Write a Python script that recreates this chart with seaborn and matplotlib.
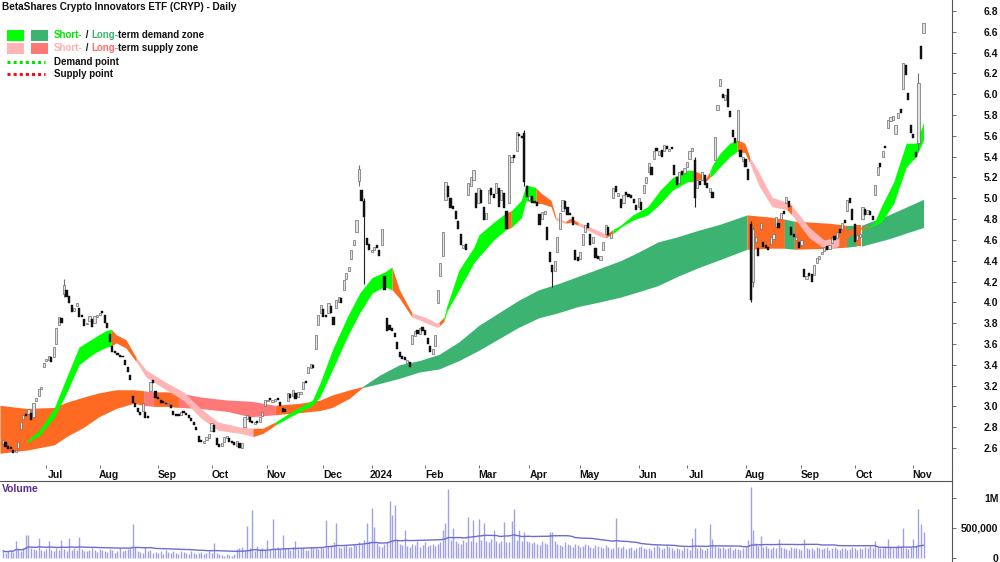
import numpy as np
import pandas as pd
import matplotlib
matplotlib.use("Agg")
import matplotlib.pyplot as plt
import seaborn as sns
from matplotlib.patches import Rectangle
from matplotlib.lines import Line2D
from matplotlib.transforms import ScaledTranslation

# ---------------- data (ASX trading days from 2023-06-07) ----------------
start_date = "2023-06-07"
asx_holidays = ["2023-06-12", "2023-12-25", "2023-12-26", "2024-01-01", "2024-01-26",
                "2024-03-29", "2024-04-01", "2024-04-25", "2024-06-10"]

closes = [
    2.68, 2.61, 2.59, 2.59, 2.55, 2.58, 2.66, 2.85, 2.92,
    2.91, 2.97, 2.87, 3.03, 3.08, 3.17, 3.19, 3.42, 3.46, 3.48,
    3.43, 3.57, 3.75, 3.86, 3.80, 4.17, 4.05, 3.99, 3.91, 3.95, 3.99,
    3.86, 3.86, 3.77, 3.80, 3.87, 3.76, 3.87, 3.88, 3.90, 3.90, 3.80,
    3.75, 3.62, 3.52, 3.51, 3.49, 3.47, 3.47, 3.40, 3.33, 3.25,
    3.03, 2.99, 2.95, 2.92, 3.03, 2.89, 2.89, 3.23, 3.22, 3.08,
    3.07, 3.03, 3.03, 3.02, 3.03, 2.98, 2.92, 2.91, 2.91, 2.95,
    2.94, 2.92, 2.89, 2.86, 2.82, 2.77, 2.66, 2.66, 2.67, 2.71, 2.73,
    2.84, 2.75, 2.63, 2.61, 2.65, 2.71, 2.72, 2.66, 2.65, 2.63, 2.67,
    2.60, 2.65, 2.90, 2.92, 2.85, 2.84, 2.85, 2.84, 2.90, 2.95,
    3.06, 3.06, 3.06, 3.06, 3.07, 3.06, 3.00, 2.95, 2.95, 3.13,
    3.08, 3.16, 3.07, 3.14, 3.14, 3.23, 3.22, 3.38, 3.41, 3.37,
    3.69, 3.88, 3.97, 3.86, 3.86, 3.99, 3.90, 3.78, 4.02,
    4.05, 3.99, 4.21, 4.28, 4.34, 4.50, 4.60, 4.79, 5.28, 4.97,
    4.82, 4.55, 4.50, 4.50, 4.53, 4.52, 4.45, 4.70, 4.12, 3.72,
    3.73, 3.72, 3.67, 3.55, 3.47, 3.46, 3.45, 3.45, 3.38, 3.69,
    3.72, 3.70, 3.75, 3.72, 3.69, 3.60, 3.52, 3.55, 3.69, 4.12,
    4.38, 4.68, 5.16, 5.01, 4.91, 4.90, 4.80, 4.70, 4.55,
    4.55, 4.50, 5.15, 5.20, 5.27, 4.91,
    5.10, 4.95, 4.79, 4.86, 5.08, 5.03, 5.00, 5.15, 4.92, 5.08,
    4.91, 4.70, 5.42, 5.40, 5.39, 5.64, 5.60, 5.58, 5.16, 5.01,
    5.02, 4.95, 4.95, 4.93, 4.74, 4.87, 4.88, 4.60, 4.39,
    4.29, 4.40, 4.63, 4.86, 4.98, 4.90, 4.84, 4.84, 4.74, 4.41,
    4.40, 4.48, 4.66, 4.74, 4.71, 4.55, 4.63, 4.43, 4.42, 4.45,
    4.58, 4.74, 4.65, 4.67, 5.10, 5.06, 5.05, 4.91, 5.03, 5.03,
    5.01, 5.00, 4.95, 4.89, 5.00, 4.89, 5.13, 5.20, 5.34, 5.22,
    5.45, 5.45, 5.45, 5.40, 5.51, 5.47, 5.47, 5.47, 5.22,
    5.13, 5.25, 5.22, 5.29, 5.35, 5.45, 5.48, 5.00, 5.18, 5.13,
    5.25, 5.13, 5.10, 5.10, 5.00, 5.59, 5.90, 6.15, 5.96, 5.99,
    5.88, 5.78, 5.59, 5.53, 5.85, 5.40, 5.40, 5.30, 5.18, 4.02,
    4.70, 4.63, 4.45, 4.76, 4.53, 4.52, 4.50, 4.63, 4.66,
    4.82, 4.71, 4.86, 4.85, 5.01, 4.92, 4.65, 4.63, 4.63, 4.52,
    4.60, 4.24, 4.25, 4.25, 4.20, 4.36, 4.43, 4.45, 4.48, 4.53,
    4.50, 4.55, 4.63, 4.60, 4.68, 4.67, 4.76, 4.76, 4.98, 4.95,
    4.79, 4.58, 4.65, 4.66, 4.92, 4.84, 4.89, 4.84, 4.79, 5.13,
    5.30, 5.30, 5.45, 5.48, 5.75, 5.78, 5.79, 5.70, 5.82, 5.82,
    6.30, 6.18, 5.94, 5.63, 5.58, 5.40, 6.11, 6.34, 6.68,
]

opens = [
    2.64, 2.66, 2.62, 2.60, 2.58, 2.56, 2.60, 2.78, 2.88,
    2.93, 2.93, 2.94, 2.90, 3.05, 3.10, 3.17, 3.38, 3.44, 3.45,
    3.47, 3.47, 3.60, 3.78, 3.85, 4.08, 4.12, 4.06, 3.97, 3.92, 3.96,
    3.95, 3.88, 3.84, 3.79, 3.82, 3.84, 3.80, 3.86, 3.88, 3.92, 3.88,
    3.80, 3.70, 3.58, 3.53, 3.51, 3.49, 3.48, 3.45, 3.38, 3.30,
    3.10, 3.03, 2.98, 2.95, 2.96, 2.95, 2.91, 3.15, 3.25, 3.15,
    3.08, 3.06, 3.05, 3.03, 3.02, 3.01, 2.96, 2.93, 2.92, 2.92,
    2.96, 2.94, 2.92, 2.89, 2.85, 2.80, 2.72, 2.68, 2.65, 2.68, 2.70,
    2.76, 2.82, 2.70, 2.64, 2.62, 2.66, 2.70, 2.70, 2.67, 2.66, 2.62,
    2.65, 2.60, 2.80, 2.88, 2.90, 2.86, 2.83, 2.86, 2.85, 2.91,
    3.00, 3.05, 3.08, 3.04, 3.05, 3.08, 3.04, 2.98, 2.97, 3.05,
    3.12, 3.10, 3.13, 3.09, 3.12, 3.17, 3.24, 3.32, 3.37, 3.40,
    3.55, 3.78, 3.90, 3.94, 3.88, 3.90, 3.96, 3.86, 3.95,
    4.00, 4.04, 4.12, 4.22, 4.30, 4.42, 4.55, 4.68, 5.17, 5.08,
    4.97, 4.62, 4.56, 4.48, 4.50, 4.55, 4.50, 4.55, 4.25, 3.85,
    3.78, 3.75, 3.71, 3.62, 3.52, 3.48, 3.47, 3.42, 3.43, 3.60,
    3.68, 3.73, 3.70, 3.76, 3.73, 3.66, 3.58, 3.50, 3.58, 3.99,
    4.25, 4.45, 4.98, 5.12, 5.00, 4.93, 4.88, 4.78, 4.66,
    4.52, 4.56, 5.03, 5.12, 5.18, 5.05,
    4.95, 5.08, 4.92, 4.80, 4.95, 5.10, 5.04, 5.05, 5.10, 4.98,
    5.05, 4.88, 4.95, 5.35, 5.42, 5.45, 5.62, 5.60, 5.63, 5.12,
    4.98, 5.02, 4.97, 4.96, 4.85, 4.80, 4.85, 4.72, 4.48,
    4.36, 4.30, 4.48, 4.70, 4.88, 4.97, 4.92, 4.86, 4.82, 4.50,
    4.44, 4.42, 4.55, 4.68, 4.76, 4.66, 4.57, 4.52, 4.45, 4.41,
    4.50, 4.66, 4.72, 4.62, 5.00, 5.12, 5.02, 4.99, 4.95, 5.06,
    5.04, 5.03, 4.99, 4.94, 4.92, 4.96, 5.05, 5.15, 5.25, 5.30,
    5.38, 5.48, 5.42, 5.46, 5.45, 5.50, 5.45, 5.49, 5.32,
    5.20, 5.15, 5.26, 5.24, 5.30, 5.38, 5.45, 5.37, 5.10, 5.17,
    5.18, 5.22, 5.15, 5.06, 5.06, 5.37, 5.85, 6.08, 6.00, 5.94,
    6.05, 5.84, 5.66, 5.58, 5.55, 5.46, 5.36, 5.38, 5.28, 4.75,
    4.20, 4.58, 4.52, 4.70, 4.58, 4.55, 4.53, 4.56, 4.61,
    4.72, 4.76, 4.80, 4.88, 4.95, 4.97, 4.72, 4.66, 4.60, 4.58,
    4.55, 4.32, 4.22, 4.28, 4.27, 4.26, 4.38, 4.42, 4.46, 4.49,
    4.54, 4.51, 4.57, 4.64, 4.62, 4.70, 4.70, 4.79, 4.88, 5.00,
    4.90, 4.75, 4.60, 4.63, 4.80, 4.90, 4.85, 4.88, 4.83, 5.03,
    5.22, 5.34, 5.40, 5.50, 5.68, 5.74, 5.75, 5.62, 5.77, 5.86,
    6.05, 6.28, 6.01, 5.70, 5.62, 5.44, 5.53, 6.46, 6.59,
]

# long wicks: trading-day number -> (low, high)
wicks = {24: (4.05, 4.22), 140: (5.12, 5.32), 142: (4.18, 5.00), 205: (5.12, 5.66),
         216: (4.15, 4.36), 272: (4.92, 5.40), 294: (4.00, 4.78), 295: (4.15, 4.72),
         360: (5.45, 6.20)}

volumes_k = [
    120, 90, 110, 140, 100, 280, 150, 110, 160, 380, 380, 170, 150, 130, 330, 140, 120,
    150, 280, 130, 110, 160, 140, 300, 150, 120, 337, 140, 160, 130, 350, 150, 120, 110, 140, 160, 130, 100, 150,
    140, 120, 100, 150, 130, 90, 110, 160, 120, 130, 150, 170, 570, 180, 120, 100, 90, 180, 110, 130, 80, 100,
    90, 110, 70, 130, 100, 80, 120, 90, 60, 110, 100, 80, 70, 120, 90, 60, 80, 100, 70, 90, 110, 80,
    250, 90, 60, 50, 40, 70, 50, 40, 60, 150, 170, 180, 140, 530, 160, 800, 120, 200, 150, 170, 130,
    300, 140, 650, 160, 180, 150, 380, 170, 160, 140, 180, 280, 150, 170, 160, 140, 130, 180, 170, 160, 150, 190,
    170, 630, 200, 220, 270, 590, 180, 170, 200, 220, 190, 180, 230, 210, 260, 240, 300, 590, 280, 830,
    520, 250, 200, 180, 230, 260, 950, 720, 880, 300, 240, 220, 470, 200, 180, 230, 210, 290, 190, 220, 260, 200,
    210, 240, 200, 230, 260, 470, 590, 1150, 300, 500, 280, 250, 240, 300, 270, 680, 290, 630, 260, 650,
    300, 590, 280, 260, 310, 470, 290, 250, 280, 600, 270, 260, 620, 820, 300, 470, 280, 440, 290, 270, 250,
    260, 240, 220, 280, 250, 230, 440, 440, 280, 240, 220, 200, 260, 230, 210, 190, 240, 220, 180, 200, 230,
    210, 190, 170, 220, 200, 180, 160, 210, 190, 150, 170, 670, 180, 160, 200, 150, 170, 190, 140, 160, 180, 200, 170,
    150, 170, 140, 190, 210, 180, 150, 170, 220, 190, 160, 140, 170, 150, 130, 180, 160, 140, 330,
    500, 160, 180, 150, 140, 170, 570, 310, 200, 180, 160, 190, 150, 170, 180, 140, 160, 150, 130, 170, 190, 300,
    1180, 470, 250, 200, 360, 180, 200, 170, 150, 180, 160, 320, 190, 170, 150, 140, 180, 160, 170, 150, 140,
    310, 160, 150, 170, 140, 180, 160, 150, 170, 190, 140, 160, 180, 150, 130, 170, 160, 140, 150, 180, 170,
    140, 170, 150, 180, 160, 200, 170, 280, 190, 170, 160, 200, 310, 180, 170, 190, 210, 180, 500, 170, 150, 190,
    320, 200, 820, 570, 440,
]

# short-term zone (trading-day number, lower, upper)
st_day = [9.4, 14.3, 20.1, 25.0, 29.9, 35.8, 40.6, 42.6, 44.5, 48.4,
          51.4, 52.4, 56.3, 64.1, 70.9, 77.7, 84.6, 93.4, 98.3, 102.2,
          107.1, 112.9, 121.7, 124.6, 129.5, 135.4, 140.3, 145.2, 150.0, 153.0,
          155.9, 160.8, 166.6, 170.5, 171.5, 173.5, 174.5, 179.3, 185.2, 187.2,
          193.0, 197.9, 199.9, 203.8, 205.7, 209.6, 211.6, 215.5, 217.4, 221.3,
          223.3, 226.2, 231.1, 235.0, 237.0, 239.9, 242.8, 247.7, 253.6, 258.5,
          263.4, 269.2, 271.2, 274.1, 276.1, 278.0, 279.0, 281.9, 285.8, 288.7,
          291.7, 293.6, 297.5, 302.4, 308.3, 310.2, 317.1, 322.9, 327.8, 328.8,
          332.7, 336.6, 340.5, 342.5, 345.4, 350.3, 355.2, 359.1, 362.0]
st_lo = [2.65, 2.72, 2.89, 3.13, 3.40, 3.51, 3.57, 3.58, 3.61, 3.56, 3.46, 3.43, 3.28, 3.16, 3.06,
         2.89, 2.77, 2.74, 2.71, 2.74, 2.82, 2.90, 3.01, 3.09, 3.35, 3.67, 3.90, 4.09, 4.15, 4.12,
         4.04, 3.86, 3.80, 3.76, 3.77, 3.82, 3.91, 4.12, 4.38, 4.44, 4.60, 4.70, 4.72, 4.81, 4.98,
         4.95, 4.95, 4.92, 4.79, 4.76, 4.77, 4.74, 4.68, 4.63, 4.62, 4.66, 4.72, 4.79, 4.84, 4.95,
         5.08, 5.16, 5.16, 5.18, 5.16, 5.20, 5.22, 5.30, 5.40, 5.45, 5.44, 5.34, 5.11, 4.92, 4.89,
         4.84, 4.62, 4.52, 4.53, 4.55, 4.63, 4.70, 4.72, 4.74, 4.77, 4.95, 5.30, 5.40, 5.56]
st_hi = [2.67, 2.77, 2.98, 3.28, 3.57, 3.66, 3.73, 3.74, 3.69, 3.64, 3.51, 3.47, 3.35, 3.23, 3.14,
         2.98, 2.85, 2.80, 2.79, 2.79, 2.85, 2.94, 3.06, 3.22, 3.54, 3.86, 4.09, 4.24, 4.29, 4.34,
         4.12, 3.90, 3.85, 3.80, 3.81, 3.86, 3.96, 4.31, 4.53, 4.65, 4.77, 4.86, 4.88, 4.98, 5.13,
         5.10, 5.05, 4.98, 4.82, 4.78, 4.81, 4.77, 4.72, 4.68, 4.65, 4.70, 4.74, 4.84, 4.92, 5.08,
         5.20, 5.27, 5.27, 5.24, 5.18, 5.26, 5.32, 5.43, 5.53, 5.56, 5.53, 5.40, 5.24, 5.01, 4.96,
         4.93, 4.72, 4.60, 4.62, 4.63, 4.70, 4.72, 4.73, 4.76, 4.92, 5.16, 5.53, 5.53, 5.73]
# state periods: g short demand, p short supply, o neutral
st_runs = [(9.4, 42.6, "g"), (42.6, 52.4, "o"), (52.4, 98.3, "p"), (98.3, 107.1, "o"),
           (107.1, 153.0, "g"), (153.0, 160.8, "o"), (160.8, 171.5, "p"), (171.5, 173.5, "o"),
           (173.5, 197.9, "g"), (197.9, 199.9, "o"), (199.9, 209.6, "g"), (209.6, 217.4, "o"),
           (217.4, 221.3, "p"), (221.3, 226.2, "o"), (226.2, 237.0, "p"), (237.0, 239.9, "o"),
           (239.9, 271.2, "g"), (271.2, 278.0, "o"), (278.0, 288.7, "g"), (288.7, 293.6, "o"),
           (293.6, 308.3, "p"), (308.3, 310.2, "o"), (310.2, 328.8, "p"), (328.8, 340.5, "o"),
           (340.5, 362.0, "g")]

# long-term zone
lt_day = [-1.2, 9.4, 20.1, 25.0, 31.8, 37.7, 44.5, 51.4, 55.3, 59.2, 64.1, 69.0, 77.7, 88.5,
          97.3, 107.1, 116.8, 124.6, 129.5, 136.4, 141.3, 148.1, 155.9, 163.7, 171.5, 179.3,
          187.2, 195.0, 202.8, 210.6, 218.4, 226.2, 234.0, 242.8, 249.7, 257.5, 265.3, 273.1,
          281.9, 292.6, 301.4, 307.3, 311.2, 324.9, 331.7, 335.6, 337.6, 348.3, 362.0]
lt_lo = [2.55, 2.58, 2.63, 2.71, 2.80, 2.90, 2.98, 3.03, 3.01, 3.00, 3.00, 2.99, 2.98, 2.95, 2.90,
         2.92, 2.94, 2.96, 2.99, 3.08, 3.18, 3.22, 3.27, 3.33, 3.36, 3.44, 3.54, 3.65, 3.76, 3.85,
         3.90, 3.96, 4.00, 4.05, 4.10, 4.16, 4.25, 4.33, 4.41, 4.51, 4.52, 4.52, 4.51, 4.52, 4.53,
         4.54, 4.54, 4.61, 4.72]
lt_hi = [3.01, 2.98, 2.99, 3.04, 3.09, 3.13, 3.16, 3.16, 3.15, 3.14, 3.14, 3.13, 3.09, 3.06, 3.05,
         3.01, 3.03, 3.06, 3.11, 3.16, 3.19, 3.30, 3.40, 3.44, 3.50, 3.62, 3.78, 3.90, 4.02, 4.12,
         4.18, 4.25, 4.32, 4.40, 4.48, 4.58, 4.63, 4.69, 4.75, 4.84, 4.82, 4.80, 4.78, 4.76, 4.74,
         4.74, 4.74, 4.84, 4.99]
# G long demand, s long supply, o neutral
lt_runs = [(-1.2, 55.3, "o"), (55.3, 59.2, "s"), (59.2, 69.0, "o"), (69.0, 107.1, "s"),
           (107.1, 141.3, "o"), (141.3, 292.6, "G"), (292.6, 307.3, "o"), (307.3, 311.2, "G"),
           (311.2, 331.7, "o"), (331.7, 335.6, "G"), (335.6, 337.6, "o"), (337.6, 362.0, "G")]

price_ticks = [2.6, 2.8, 3.0, 3.2, 3.4, 3.6, 3.8, 4.0, 4.2, 4.4, 4.6, 4.8, 5.0, 5.2, 5.4,
               5.6, 5.8, 6.0, 6.2, 6.4, 6.6, 6.8]
vol_ticks = [0, 500000, 1000000]
vol_tick_labels = ["0", "500,000", "1M"]
title = "BetaShares Crypto Innovators ETF (CRYP) - Daily"

assert len(closes) == len(opens) == len(volumes_k)
assert len(st_day) == len(st_lo) == len(st_hi)
assert len(lt_day) == len(lt_lo) == len(lt_hi)

# ---------------- style ----------------
sns.set_theme(style="white")
plt.rcParams["font.family"] = ["Liberation Sans", "DejaVu Sans"]
plt.rcParams["font.weight"] = "bold"
FS = 7.5
FL = 7.0

pal = {"g": "#00ff00", "G": "#3cb371", "p": "#ffb5b5", "s": "#ff7878", "o": "#ff6a22"}

n = len(closes)
x = np.arange(n)
dates = pd.bdate_range(start_date, periods=n, freq="C", holidays=asx_holidays)
c = np.array(closes)
o = np.array(opens)
vol = np.array(volumes_k) * 1000.0

fig = plt.figure(figsize=(10, 5.62), dpi=100)
FH = 562.0
ax = fig.add_axes([0, 1 - 465 / FH, 0.952, 465 / FH])
axv = fig.add_axes([0, 0, 0.952, 81 / FH])

XL = (-1.18, 373.2)


def draw_band(a, day, lo, hi, runs, z):
    day = np.asarray(day)
    lo = np.asarray(lo)
    hi = np.asarray(hi)
    for s, e, key in runs:
        m = (day >= s - 1e-6) & (day <= e + 1e-6)
        a.fill_between(day[m], lo[m], hi[m], color=pal[key], lw=0, zorder=z)


draw_band(ax, lt_day, lt_lo, lt_hi, lt_runs, 1)
draw_band(ax, st_day, st_lo, st_hi, st_runs, 2)

# candles
up = c >= o
blo = np.minimum(o, c)
bh = np.maximum(np.abs(c - o), 0.016)
for k, (lo, hi) in wicks.items():
    ax.vlines(k, lo, hi, color="#222222" if not up[k] else "#707070", lw=0.8, zorder=3)
ax.bar(x[up], bh[up], bottom=blo[up], width=0.85, color="#e2e2e2", edgecolor="#6a6a6a",
       linewidth=0.5, zorder=4)
ax.bar(x[~up], bh[~up], bottom=blo[~up], width=0.85, color="#111111", edgecolor="#111111",
       linewidth=0.3, zorder=4)

ax.set_xlim(*XL)
ax.set_ylim(2.4366, 6.9056)
for s in ["left", "top", "bottom"]:
    ax.spines[s].set_visible(False)
ax.spines["right"].set_color("#555555")
ax.spines["right"].set_linewidth(0.8)
ax.yaxis.tick_right()
ax.set_yticks(price_ticks)
ax.set_yticklabels([f"{t:.1f}" for t in price_ticks])
ax.tick_params(axis="y", direction="out", length=3, width=0.6, color="#555555", pad=30.5,
               labelsize=FS, labelcolor="#111111", right=True, left=False)
for lbl in ax.get_yticklabels():
    lbl.set_ha("right")
    lbl.set_fontweight("bold")

# month ticks at the first trading day of each month
firsts = pd.Series(x, index=dates).groupby([dates.year, dates.month]).first()
mt, ml = [], []
for (yr, mo), i in firsts.items():
    if i == 0:
        continue
    mt.append(i)
    ml.append(str(yr) if mo == 1 else pd.Timestamp(year=yr, month=mo, day=1).strftime("%b"))
ax.set_xticks(mt)
ax.set_xticklabels(ml)
ax.tick_params(axis="x", direction="out", length=2.5, width=0.6, color="#555555", pad=1.0,
               labelsize=FS, labelcolor="#111111", bottom=True)
off = ScaledTranslation(0.09, 0, fig.dpi_scale_trans)
for lbl in ax.get_xticklabels():
    lbl.set_transform(lbl.get_transform() + off)
    lbl.set_fontweight("bold")
ax.grid(False)

# volume panel
axv.vlines(x, 0, vol, color="#a0a0e6", lw=1.0, zorder=2)
ma = pd.Series(vol).rolling(50, min_periods=1).mean().to_numpy()
sns.lineplot(x=x, y=ma, ax=axv, color="#6c6cd2", lw=1.0, zorder=3)
axv.set_xlim(*XL)
axv.set_ylim(-67000, 1283000)
for s in ["left", "bottom"]:
    axv.spines[s].set_visible(False)
for s in ["top", "right"]:
    axv.spines[s].set_color("#555555")
    axv.spines[s].set_linewidth(0.8)
axv.set_xticks([])
axv.yaxis.tick_right()
axv.set_yticks(vol_ticks)
axv.set_yticklabels(vol_tick_labels)
axv.tick_params(axis="y", direction="out", length=3, width=0.6, color="#555555", pad=30.5,
                labelsize=FS, labelcolor="#111111", right=True, left=False)
for lbl in axv.get_yticklabels():
    lbl.set_ha("right")
    lbl.set_fontweight("bold")
axv.set_ylabel("")
axv.grid(False)
axv.text(0.002, (562 - 489) / 81.0, "Volume", transform=axv.transAxes, color="#5c2d91",
         fontsize=FS, fontweight="bold", va="center", ha="left")

# spine through the gap between panels
fig.add_artist(Line2D([0.952, 0.952], [(562 - 481) / FH, (562 - 465) / FH], color="#555555",
                      lw=0.8, transform=fig.transFigure))


# title and legend
def fy(py):
    return 1 - py / FH


fig.text(0.002, fy(7.5), title, fontsize=FL + 0.2, fontweight="bold", color="#111111",
         va="center", ha="left")

rows = [
    (35.5, ("g", "G"), [("Short-", "#00e600"), (" / ", "#111111"), ("Long-", "#3cb371"),
                        ("term demand zone", "#111111")]),
    (48.0, ("p", "s"), [("Short-", "#ffb0b0"), (" / ", "#111111"), ("Long-", "#ff6f6f"),
                        ("term supply zone", "#111111")]),
]
renderer = fig.canvas.get_renderer()
for py, keys, parts in rows:
    fig.add_artist(Rectangle((0.007, fy(py + 5.5)), 0.017, 11 / FH, color=pal[keys[0]],
                             transform=fig.transFigure, lw=0))
    fig.add_artist(Rectangle((0.031, fy(py + 5.5)), 0.017, 11 / FH, color=pal[keys[1]],
                             transform=fig.transFigure, lw=0))
    tx = 0.054
    for s, col in parts:
        t = fig.text(tx, fy(py), s, fontsize=FL, fontweight="bold", color=col, va="center",
                     ha="left")
        bb = t.get_window_extent(renderer=renderer)
        tx = bb.x1 / fig.bbox.width

for py, col, label in [(62.0, "#00e600", "Demand point"), (74.0, "#ee1111", "Supply point")]:
    fig.add_artist(Line2D([0.007, 0.045], [fy(py), fy(py)], color=col, lw=2.2,
                          linestyle=(0, (1, 1)), transform=fig.transFigure))
    fig.text(0.054, fy(py), label, fontsize=FL, fontweight="bold", color="#111111",
             va="center", ha="left")

fig.savefig("out.png", dpi=100)
